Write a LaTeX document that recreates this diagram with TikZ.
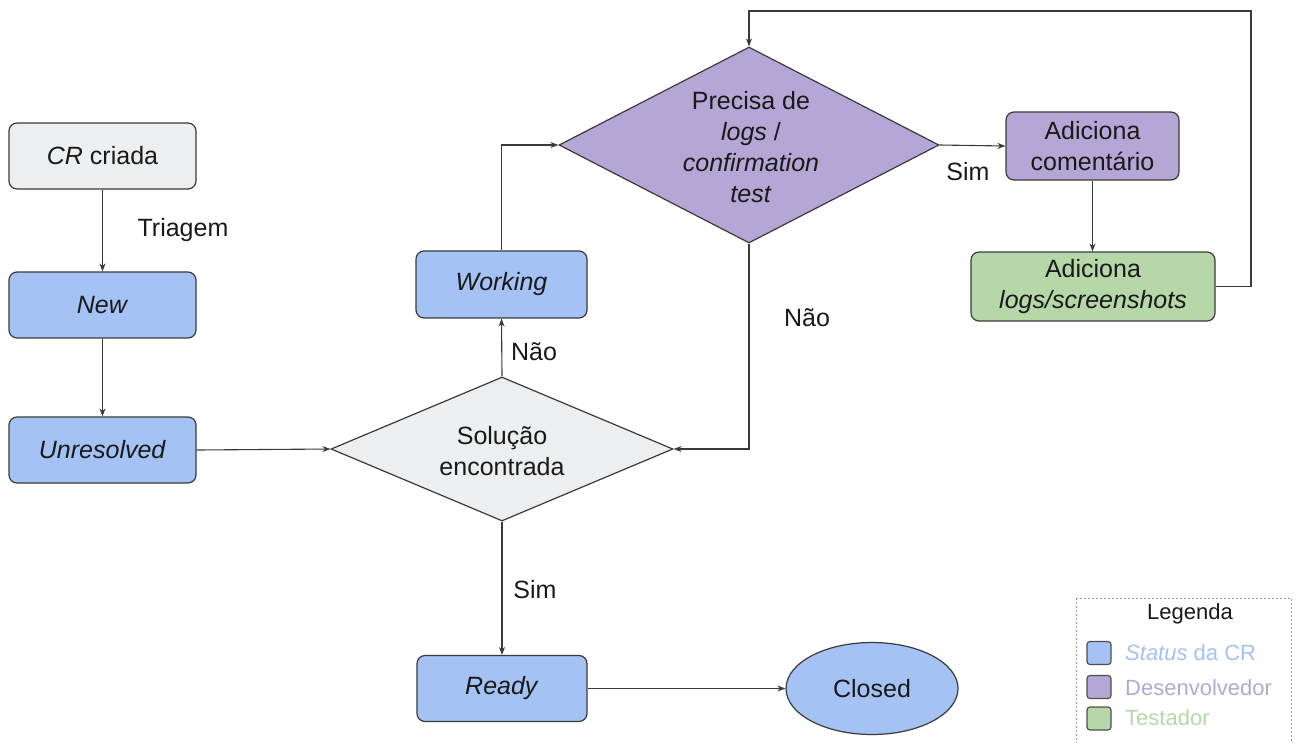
\documentclass[tikz,border=0pt]{standalone}
\usepackage{fontspec}
\setmainfont{Liberation Sans}
\usetikzlibrary{shapes.geometric,arrows.meta,calc}
\definecolor{statusblue}{HTML}{A4C2F4}
\definecolor{devpurple}{HTML}{B4A7D6}
\definecolor{testgreen}{HTML}{B6D7A8}
\definecolor{startgrey}{HTML}{EDEEEF}
\definecolor{edge}{HTML}{3A3A3A}
\begin{document}
\begin{tikzpicture}[x=1pt,y=-1pt,
  every node/.style={font=\fontsize{25}{31}\selectfont, text=black!90},
  box/.style={draw=edge, line width=1.2pt, rounded corners=8pt, align=center, inner sep=0pt},
  dia/.style={diamond, draw=edge, line width=1.2pt, inner sep=0pt},
  arr/.style={draw=edge, line width=1.1pt, -{Stealth[length=8pt,width=6pt]}},
  lbl/.style={inner sep=0pt},
  swatch/.style={draw=edge!90, line width=1.2pt, rounded corners=3pt, minimum width=24pt, minimum height=23pt, inner sep=0pt},
  legtext/.style={font=\fontsize{22}{26}\selectfont, anchor=west, inner sep=0pt}
]
\useasboundingbox (0,0) rectangle (1297,742);

% left column
\node[box, fill=startgrey, minimum width=187pt, minimum height=66pt] (cr) at (102.5,156) {\textit{CR} criada};
\node[box, fill=statusblue, minimum width=187pt, minimum height=66pt] (new) at (102.5,305) {\textit{New}};
\node[box, fill=statusblue, minimum width=187pt, minimum height=66pt] (unres) at (102.5,450) {\textit{Unresolved}};

% decisions
\node[dia, fill=startgrey, minimum width=342pt, minimum height=144pt] (sol) at (502,449) {};
\node[align=center, inner sep=0pt] (soltext) at (502,451) {Solução\\encontrada};
\node[dia, fill=devpurple, minimum width=380pt, minimum height=196pt] (prec) at (749,145) {};
\node[align=center, inner sep=0pt] (prectext) at (751,147) {Precisa de\\\textit{logs} /\\\textit{confirmation}\\\textit{test}};

% status boxes
\node[box, fill=statusblue, minimum width=171pt, minimum height=67pt] (work) at (501.5,284.5) {\textit{Working}};
\node[box, fill=statusblue, minimum width=170pt, minimum height=66pt] (ready) at (502,688.5) {\textit{Ready}};
\node[ellipse, draw=edge, line width=1.2pt, fill=statusblue, minimum width=172pt, minimum height=92pt, inner sep=0pt] (closed) at (872,688.5) {Closed};

% developer / tester actions
\node[box, fill=devpurple, minimum width=173pt, minimum height=68pt] (coment) at (1092.5,146) {Adiciona\\comentário};
\node[box, fill=testgreen, minimum width=244pt, minimum height=69pt] (logs) at (1093,286.5) {Adiciona\\\textit{logs/screenshots}};

% connectors
\draw[arr] (cr) -- (new);
\draw[arr] (new) -- (unres);
\draw[arr] (unres.east) -- (sol.west);
\draw[arr] (sol.north) -- (work.south);
\draw[arr] (work.north) |- (prec.west);
\draw[arr] (prec.east) -- (coment.west);
\draw[arr] (coment.south) -- (coment.south |- logs.north);
\coordinate (loop) at (1251,11);
\draw[arr] (logs.east) -| (loop) -| (prec.north);
\draw[arr] (prec.south) |- (sol.east);
\draw[arr] (sol.south) -- (ready.north);
\draw[arr] (ready.east) -- (closed.west);

% connector labels
\node[lbl] (ltri) at (183,230) {Triagem};
\node[lbl] (lnao1) at (534,352) {Não};
\node[lbl] (lsim1) at (968,172) {Sim};
\node[lbl] (lnao2) at (807,318) {Não};
\node[lbl] (lsim2) at (535,590) {Sim};

% legend
\draw[gray!80, line width=1pt, dash pattern=on 2pt off 2pt] (1076,598) rectangle (1291,760);
\node[font=\fontsize{22}{26}\selectfont, inner sep=0pt] (legtitle) at (1190,614) {Legenda};
\node[swatch, fill=statusblue] (sw1) at (1099,653) {};
\node[swatch, fill=devpurple] (sw2) at (1099,687) {};
\node[swatch, fill=testgreen] (sw3) at (1099,718.5) {};
\node[legtext, text=statusblue] (lt1) at (1125,653) {\textit{Status} da CR};
\node[legtext, text=devpurple] (lt2) at (1125,688) {Desenvolvedor};
\node[legtext, text=testgreen] (lt3) at (1125,718) {Testador};
\end{tikzpicture}
\end{document}
